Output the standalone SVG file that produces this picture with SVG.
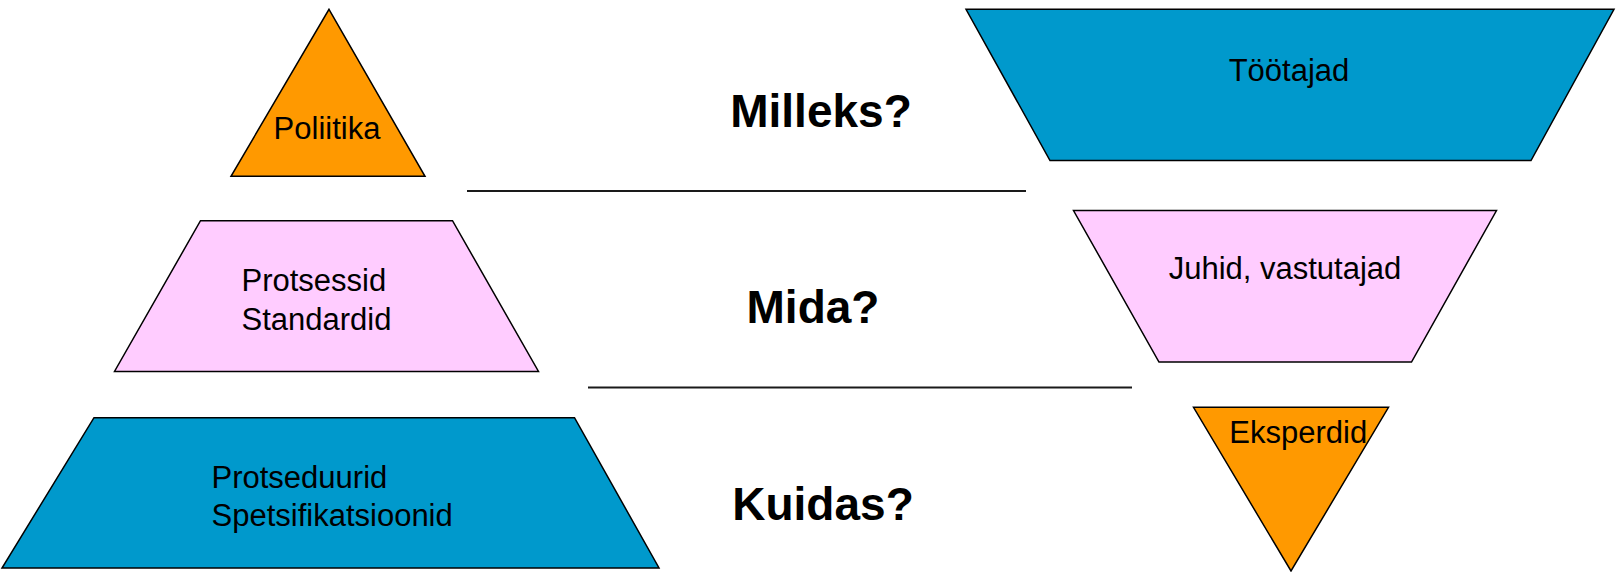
<svg xmlns="http://www.w3.org/2000/svg" width="1617" height="572" viewBox="0 0 1617 572">
  <style>
    .shape { stroke: #000; stroke-width: 1.5; stroke-linejoin: miter; }
    .orange { fill: #FF9900; }
    .pink { fill: #FFCCFF; }
    .blue { fill: #0099CC; }
    .lbl { font-family: "Liberation Sans", Arial, sans-serif; font-size: 31px; fill: #000; }
    .q { font-family: "Liberation Sans", Arial, sans-serif; font-size: 46px; font-weight: bold; fill: #000; text-anchor: middle; }
    .sep { stroke: #1a1a1a; stroke-width: 2; }
  </style>
  <rect width="1617" height="572" fill="#fff"/>

  <g id="poliitika">
    <polygon class="shape orange" points="329,9.3 425,176.3 231,176.3"/>
    <text class="lbl" x="327" y="139" text-anchor="middle">Poliitika</text>
  </g>

  <g id="protsessid">
    <polygon class="shape pink" points="200.5,220.7 452.5,220.7 538.5,371.5 114.5,371.5"/>
    <text class="lbl" x="241.5" y="290.7">Protsessid</text>
    <text class="lbl" x="241.5" y="330">Standardid</text>
  </g>

  <g id="protseduurid">
    <polygon class="shape blue" points="94,417.7 574.5,417.7 659,568 2,568"/>
    <text class="lbl" x="211.5" y="488.3">Protseduurid</text>
    <text class="lbl" x="211.5" y="525.7">Spetsifikatsioonid</text>
  </g>

  <g id="tootajad">
    <polygon class="shape blue" points="966,9.3 1614,9.3 1531,160.5 1050,160.5"/>
    <text class="lbl" x="1289" y="80.7" text-anchor="middle">Töötajad</text>
  </g>

  <g id="juhid">
    <polygon class="shape pink" points="1073.5,210.5 1496.5,210.5 1411.5,362 1159,362"/>
    <text class="lbl" x="1285" y="279.3" text-anchor="middle">Juhid, vastutajad</text>
  </g>

  <g id="eksperdid">
    <polygon class="shape orange" points="1193.5,407.3 1388.5,407.3 1291,571"/>
    <text class="lbl" x="1229.3" y="442.7">Eksperdid</text>
  </g>

  <g id="questions">
    <text class="q" x="821" y="126.7">Milleks?</text>
    <text class="q" x="813" y="323.3">Mida?</text>
    <text class="q" x="823" y="520">Kuidas?</text>
  </g>

  <g id="connectors">
    <line class="sep" x1="467" y1="191" x2="1026" y2="191"/>
    <line class="sep" x1="588" y1="387.5" x2="1132" y2="387.5"/>
  </g>
</svg>
